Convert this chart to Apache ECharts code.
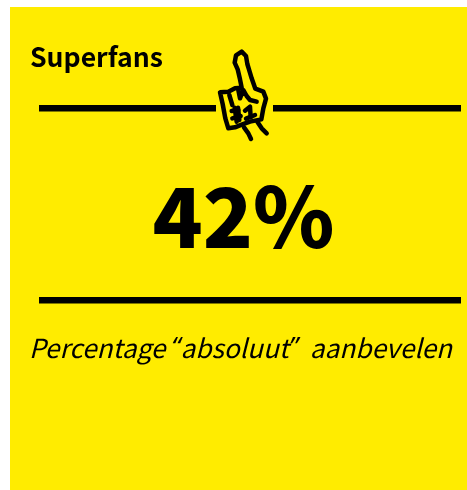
<!DOCTYPE html>
<html><head><meta charset="utf-8">
<style>html,body{margin:0;padding:0;background:#fff}#c{width:467px;height:490px}</style>
<script src="https://cdn.jsdelivr.net/npm/echarts@6/dist/echarts.min.js"></script>
</head><body><div id="c"></div>
<script>
const titleText = "Superfans";
const valueText = "42%";
const captionParts = ["Percentage ", "“", "absoluut", "”", "  aanbevelen"];
const FONT = '"Noto Sans CJK SC","Noto Sans",sans-serif';
const handPaths = [
 [[125,143],[120,118],[113,88],[104,68],[108,46],[125,35],[138,48],[142,72],[148,92],[155,115],[166,146],[190,155],[198,176],[190,205],[184,238],[150,245],[125,254],[105,262],[85,265],[76,235],[68,192],[60,157],[85,155],[105,145],[125,143]],
 [[88,165],[93,182],[97,195]],
 [[115,150],[120,175],[130,150],[140,168],[150,180],[170,185]],
 [[132,262],[145,280],[153,297]],
 [[172,245],[185,265],[200,280]],
 [[95,213],[115,210]],[[97,235],[122,228]],[[104,203],[110,245]],[[114,203],[118,240]],
 [[135,212],[150,200],[152,232]],[[138,236],[165,225]]
];
const toPage = p => p.map(q => [200 + q[0]/3, 40 + q[1]/3]);
const chart = echarts.init(document.getElementById('c'), null, {renderer:'canvas'});
const cap = {fontFamily:FONT,fontStyle:'italic',fontSize:26.2,fill:'#000'};
chart.setOption({
 animation:false,
 graphic:[
  {type:'rect',shape:{x:10,y:7,width:457,height:483},style:{fill:'#ffec00'}},
  {type:'rect',shape:{x:39,y:105,width:177,height:6.5},style:{fill:'#000'}},
  {type:'rect',shape:{x:273,y:105,width:188,height:6.5},style:{fill:'#000'}},
  {type:'rect',shape:{x:39,y:297,width:422,height:6.5},style:{fill:'#000'}},
  {type:'text',x:30,y:57,style:{text:titleText,font:'bold 26.6px '+FONT,fill:'#000',textAlign:'left',textVerticalAlign:'middle'}},
  {type:'text',x:243.5,y:217,style:{text:valueText,font:'900 82.5px '+FONT,fill:'#000',textAlign:'center',textVerticalAlign:'middle'}},
  {type:'text',x:29,y:348,style:{
    text:`{a|${captionParts[0]}}{q|${captionParts[1]}}{a|${captionParts[2]}}{q|${captionParts[3]}}{a|${captionParts[4]}}`,
    textAlign:'left',textVerticalAlign:'middle',
    rich:{a:{...cap},q:{...cap,fontFamily:'"Noto Sans",sans-serif'}}
  }},
  ...handPaths.map(p=>({type:'polyline',shape:{points:toPage(p)},style:{fill:null,stroke:'#000',lineWidth:4.5,lineJoin:'round',lineCap:'round'}}))
 ]
});
</script></body></html>
